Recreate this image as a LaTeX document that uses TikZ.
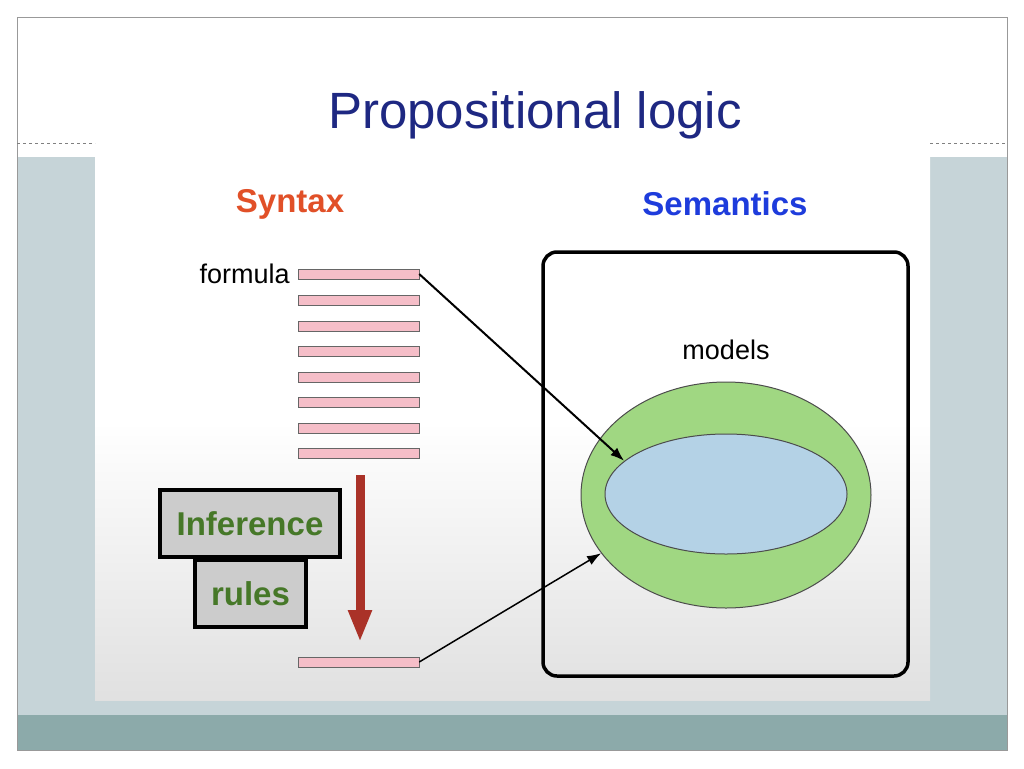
\documentclass[tikz,border=0pt]{standalone}
\usepackage{fontspec}
\setmainfont{Liberation Sans}
\usetikzlibrary{arrows.meta,positioning,shapes.geometric}
\definecolor{titleblue}{RGB}{30,40,130}
\definecolor{synred}{RGB}{225,80,40}
\definecolor{semblue}{RGB}{30,60,220}
\definecolor{barpink}{RGB}{245,190,200}
\definecolor{arrred}{RGB}{170,50,40}
\definecolor{infgreen}{RGB}{70,120,40}
\definecolor{modgreen}{RGB}{160,215,130}
\definecolor{modblue}{RGB}{180,210,230}
\definecolor{bandgray}{RGB}{198,212,216}
\definecolor{bandteal}{RGB}{140,170,170}
\begin{document}
\begin{tikzpicture}[x=1pt,y=-1pt]
    \tikzstyle{bar}=[draw=black!60, fill=barpink, minimum width=121pt, minimum height=10pt, inner sep=0pt]
    \tikzstyle{rulebox}=[draw=black, line width=3.5pt, fill=black!20, inner sep=0pt, text=infgreen, font=\bfseries\fontsize{33}{36}\selectfont]
    
    % Background
    \useasboundingbox (0,0) rectangle (1024,768);
    \fill[white] (0,0) rectangle (1024,768);
    \fill[bandgray] (17,157) rectangle (1007,715);
    \fill[bandteal] (17,715) rectangle (1007,750);
    \shade[top color=white, bottom color=black!12, middle color=white] (95,143) rectangle (930,700);
    \draw[black!40, line width=0.5pt] (17,17) rectangle (1007,750);
    \draw[black!50, dashed, line width=0.4pt] (17,143) -- (95,143) (930,143) -- (1007,143);
    
    % Titles
    \node at (535,115) [text=titleblue, font=\fontsize{51}{56}\selectfont] (title) {Propositional logic};
    \node at (290,204) [text=synred, font=\bfseries\fontsize{33}{36}\selectfont] (syntax) {Syntax};
    \node at (725,204) [text=semblue, font=\bfseries\fontsize{33}{36}\selectfont] (semantics) {Semantics};
    
    % Formulas
    \foreach \i/\y in {1/274,2/300,3/326,4/351,5/377,6/402,7/428,8/453}
        \node at (358.5,\y) [bar] (f\i) {};
    \node at (358.5,662) [bar] (last) {};
    \node [left=8pt of f1, font=\fontsize{27}{30}\selectfont, inner sep=0pt] (formula) {formula};
    
    % Inference
    \draw [-{Triangle[length=32pt,width=22pt]}, arrred, line width=9pt] (360,475) -- (360,642);
    \node at (250,523.5) [rulebox, minimum width=180pt, minimum height=67pt] (inference) {Inference};
    \node at (250.5,593.5) [rulebox, minimum width=111pt, minimum height=67pt] (rules) {rules};
    
    % Semantics
    \draw [line width=3.5pt, rounded corners=14pt] (543,252) rectangle (908,676);
    \node at (726,495) [ellipse, draw=black!70, fill=modgreen, line width=1pt, minimum width=290pt, minimum height=226pt] (models) {};
    \node at (726,494) [ellipse, draw=black!70, fill=modblue, line width=1pt, minimum width=242pt, minimum height=120pt] (model) {};
    \node at (726,350) [font=\fontsize{27}{30}\selectfont] (mlabel) {models};
    
    \draw [-{Latex[length=14pt,width=10pt]}, line width=2pt] (f1.east) -- (model.162);
    \draw [-{Latex[length=14pt,width=10pt]}, line width=1.5pt] (last.east) -- (models.205);
\end{tikzpicture}
\end{document}
